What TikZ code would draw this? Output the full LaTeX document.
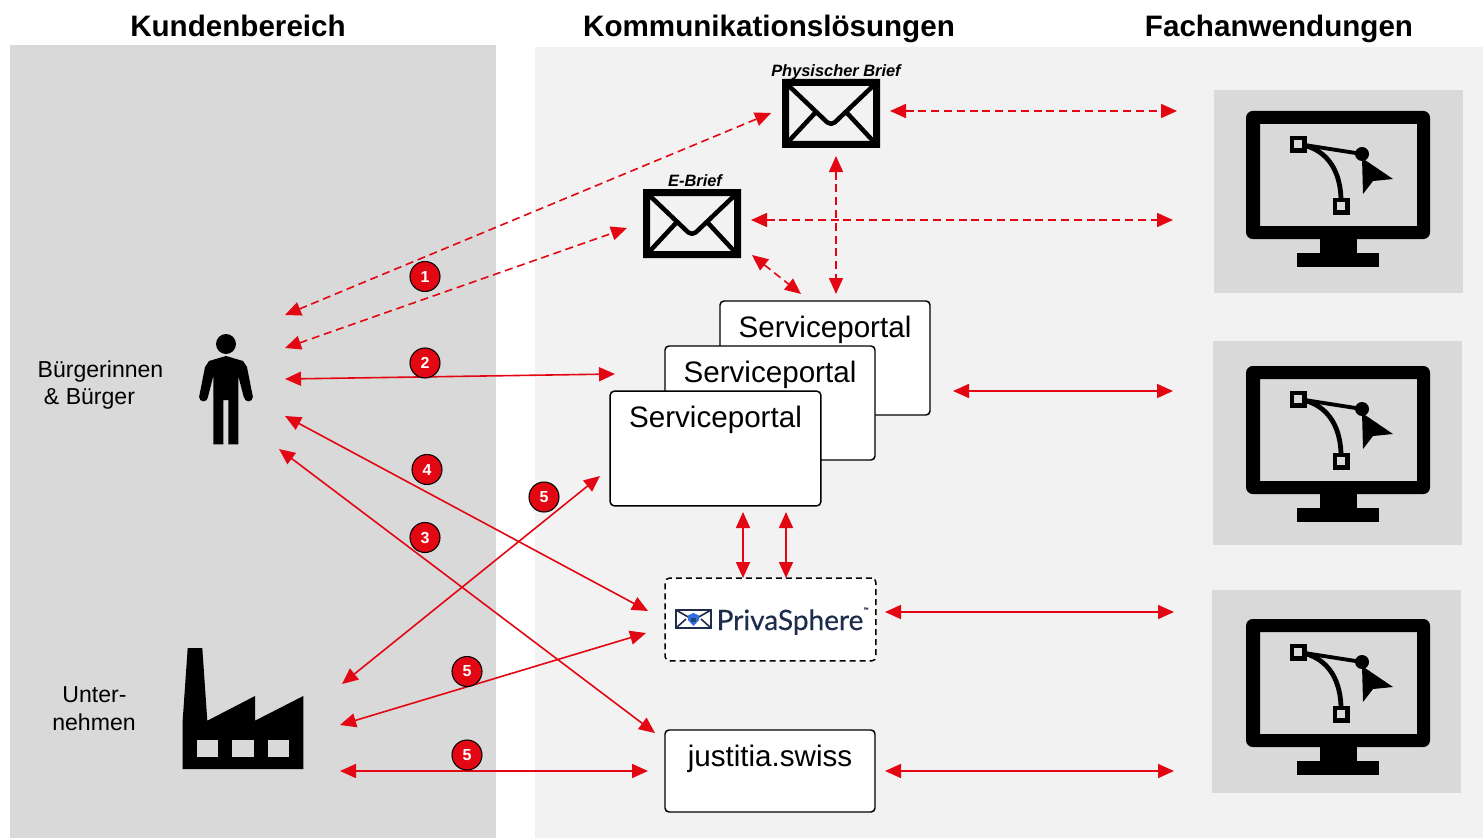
\documentclass[tikz,border=0pt]{standalone}
\usepackage{fontspec}
\setmainfont{Liberation Sans}
\newfontfamily\logofont[FakeBold=0.5]{Lato}
\usetikzlibrary{arrows.meta}
\definecolor{arrowred}{HTML}{E30613}
\definecolor{panelgray}{HTML}{D9D9D9}
\definecolor{lightbg}{HTML}{F2F2F2}
\definecolor{logonavy}{HTML}{1F2D4D}
\definecolor{logoblue}{HTML}{2F6FE0}
\tikzset{
  x=0.75pt,y=-0.75pt,
  link/.style={draw=arrowred,line width=1.2pt,{Triangle[length=12pt,width=10.5pt]}-{Triangle[length=12pt,width=10.5pt]}},
  dashlink/.style={link,dash pattern=on 6pt off 3.6pt},
  heading/.style={font=\fontsize{22.2}{26}\selectfont\bfseries,inner sep=0pt,anchor=base},
  sidetext/.style={font=\fontsize{17.3}{20.3}\selectfont,inner sep=0pt,anchor=base},
  brieftext/.style={font=\fontsize{12.3}{14}\selectfont\bfseries\itshape,inner sep=0pt,anchor=base},
  whitebox/.style={draw=black,fill=white,line width=1.1pt,rounded corners=3pt,inner sep=0pt,outer sep=0pt},
  boxtext/.style={font=\fontsize{22.2}{26}\selectfont,inner sep=0pt,anchor=base},
  badge/.style={circle,draw=black,fill=arrowred,line width=0.8pt,minimum size=22.5pt,inner sep=0pt,text=white,font=\fontsize{12}{14}\selectfont\bfseries},
  panel/.style={fill=panelgray,draw=none},
  monitor/.pic={
    \fill[even odd rule,rounded corners=5pt] (0,0) rectangle (184,128) (14,13) [sharp corners] rectangle (171,115);
    \fill (74,126) rectangle (111,145);
    \fill (51,142) rectangle (133,156);
    \draw[line width=3.6pt] (52,33) .. controls (85,38) and (95,65) .. (95,90);
    \draw[line width=2.9pt] (52,33) -- (116,43);
    \fill (116,43) circle (7);
    \fill (116,47) -- (147,68) -- (127,70) -- (117,83) -- cycle;
    \draw[line width=3.4pt,fill=panelgray] (46,27) rectangle (58.5,39.5);
    \draw[line width=3.4pt,fill=panelgray] (89,89) rectangle (101.5,101.5);
  },
  envelope/.pic={
    \fill[even odd rule] (0,0) rectangle (98,69) (7,7) rectangle (91,62);
    \draw[line width=3.4pt,line join=round,rounded corners=4pt] (6,6) -- (49,47) -- (92,6);
    \draw[line width=3.4pt] (6,63) -- (33,34);
    \draw[line width=3.4pt] (92,63) -- (65,34);
  },
}
\begin{document}
\begin{tikzpicture}
\path[use as bounding box,fill=white] (0,0) rectangle (1483,838);
% backgrounds
\fill[panelgray] (10,45) rectangle (496,838);
\fill[lightbg] (535,47) rectangle (1483,838);
\fill[panel] (1214,90) rectangle (1463,293);
\fill[panel] (1213,341) rectangle (1462,545);
\fill[panel] (1212,590) rectangle (1461,793);
% headings
\node[heading] (hk) at (238,37) {Kundenbereich};
\node[heading] (hl) at (769,37) {Kommunikationslösungen};
\node[heading] (hf) at (1279,37) {Fachanwendungen};
% side labels
\node[sidetext] (buerger1) at (100.5,377) {Bürgerinnen};
\node[sidetext] (buerger2) at (89.5,404) {\& Bürger};
\node[sidetext] (unter1) at (94.5,702) {Unter-};
\node[sidetext] (unter2) at (94,730) {nehmen};
% person
\fill (226,344) circle (10);
\fill (226,356) -- (209,361) -- (205,367) -- (199.3,396) -- (207.7,398) -- (213.3,376) -- (213.3,444.3) -- (223.3,444.3) -- (223.3,400) -- (228.3,400) -- (228.3,444.3) -- (238.3,444.3) -- (238.3,376) -- (244,398) -- (252.7,396) -- (247,367) -- (243,361) -- cycle;
\fill (203.5,397) circle (4.4);
\fill (248.5,397) circle (4.4);
% factory
\fill (187.7,648) -- (202.3,648) -- (207.3,720.7) -- (255,696) -- (255,720.7) -- (303.3,696) -- (303.3,769) -- (182.7,769) -- (182.7,720) -- cycle;
\fill[panelgray] (196.7,740) rectangle (218.3,756.7);
\fill[panelgray] (232.3,740) rectangle (253.7,756.7);
\fill[panelgray] (267.7,740) rectangle (289.3,756.7);
% envelopes
\pic at (782,79) {envelope};
\pic at (643,189) {envelope};
\node[brieftext] (pb) at (836,77) {Physischer Brief};
\node[brieftext] (eb) at (695,186) {E-Brief};
% monitors
\pic at (1246,111) {monitor};
\pic at (1246,366) {monitor};
\pic at (1246,619) {monitor};
% boxes
\node[whitebox,minimum width=157.5pt,minimum height=85.5pt] (sp3) at (825,358) {};
\node[whitebox,minimum width=157.5pt,minimum height=85.5pt] (sp2) at (770,403) {};
\node[whitebox,minimum width=158pt,minimum height=86pt] (sp1) at (715.5,448.5) {};
\node[boxtext] at (825,337) {Serviceportal};
\node[boxtext] at (770,382) {Serviceportal};
\node[boxtext] at (715.5,427) {Serviceportal};
\node[whitebox,dashed,dash pattern=on 4.5pt off 3pt,minimum width=158pt,minimum height=62pt] (priva) at (770.5,619.5) {};
\node[whitebox,minimum width=157.5pt,minimum height=61.5pt] (just) at (770,771) {};
\node[boxtext] at (770,766) {justitia.swiss};
% PrivaSphere logo
\node[inner sep=0pt,text=logonavy,font=\logofont\fontsize{21}{24}\selectfont,anchor=base] (plogo) at (790,630) {PrivaSphere};
\node[inner sep=0pt,text=logonavy,font=\logofont\fontsize{5}{6}\selectfont] (ptm) at (866,610) {™};
\draw[logonavy,line width=1.7pt,fill=white] (676,610) rectangle (711,628);
\draw[logonavy,line width=1.2pt] (676,610) -- (693.5,620) -- (711,610) (676,628) -- (686,619) (711,628) -- (701,619);
\fill[logoblue] (693.5,613) -- (699,615.5) -- (699,620) -- (693.5,626) -- (688,620) -- (688,615.5) -- cycle;
\fill[logonavy!70!logoblue] (691,617.5) rectangle (696,622);
% connector ends
\coordinate (p1) at (285,315); \coordinate (pbrief) at (771,113);
\coordinate (p2) at (285,348); \coordinate (ebrief) at (627,228);
\coordinate (p3) at (285,379); \coordinate (s3) at (615,374);
\coordinate (p4) at (285,416); \coordinate (pv1) at (648,611);
\coordinate (p5) at (279,449); \coordinate (j1) at (655,733);
\coordinate (f1) at (342,684); \coordinate (s5) at (600,476);
\coordinate (f2) at (340,725); \coordinate (pv2) at (646,633);
\coordinate (f3) at (340,771); \coordinate (j2) at (648,771);
\coordinate (pbr) at (890,111); \coordinate (m1a) at (1177,111);
\coordinate (ebr) at (751,220); \coordinate (m1b) at (1173,220);
\coordinate (pbb) at (836,156); \coordinate (st) at (836,294);
\coordinate (ebb) at (752,255); \coordinate (st2) at (801,294);
\coordinate (sr) at (953,391); \coordinate (m2) at (1173,391);
\coordinate (sb1) at (743,512); \coordinate (pt1) at (743,578);
\coordinate (sb2) at (786,512); \coordinate (pt2) at (786,578);
\coordinate (pr) at (885,612); \coordinate (m3a) at (1174,612);
\coordinate (jr) at (885,771); \coordinate (m3b) at (1174,771);
% connectors
\draw[dashlink] (p1) -- (pbrief);
\draw[dashlink] (p2) -- (ebrief);
\draw[link] (p3) -- (s3);
\draw[link] (p4) -- (pv1);
\draw[link] (p5) -- (j1);
\draw[link] (f1) -- (s5);
\draw[link] (f2) -- (pv2);
\draw[link] (f3) -- (j2);
\draw[dashlink] (pbr) -- (m1a);
\draw[dashlink] (ebr) -- (m1b);
\draw[dashlink] (pbb) -- (st);
\draw[dashlink] (ebb) -- (st2);
\draw[link] (sr) -- (m2);
\draw[link] (sb1) -- (pt1);
\draw[link] (sb2) -- (pt2);
\draw[link] (pr) -- (m3a);
\draw[link] (jr) -- (m3b);
% badges
\node[badge] (b1) at (425,276.5) {1};
\node[badge] (b2) at (425,363) {2};
\node[badge] (b4) at (427,469.5) {4};
\node[badge] (b3) at (425,537.5) {3};
\node[badge] (b5a) at (544,497) {5};
\node[badge] (b5b) at (467,671.5) {5};
\node[badge] (b5c) at (467,755) {5};
\end{tikzpicture}
\end{document}
